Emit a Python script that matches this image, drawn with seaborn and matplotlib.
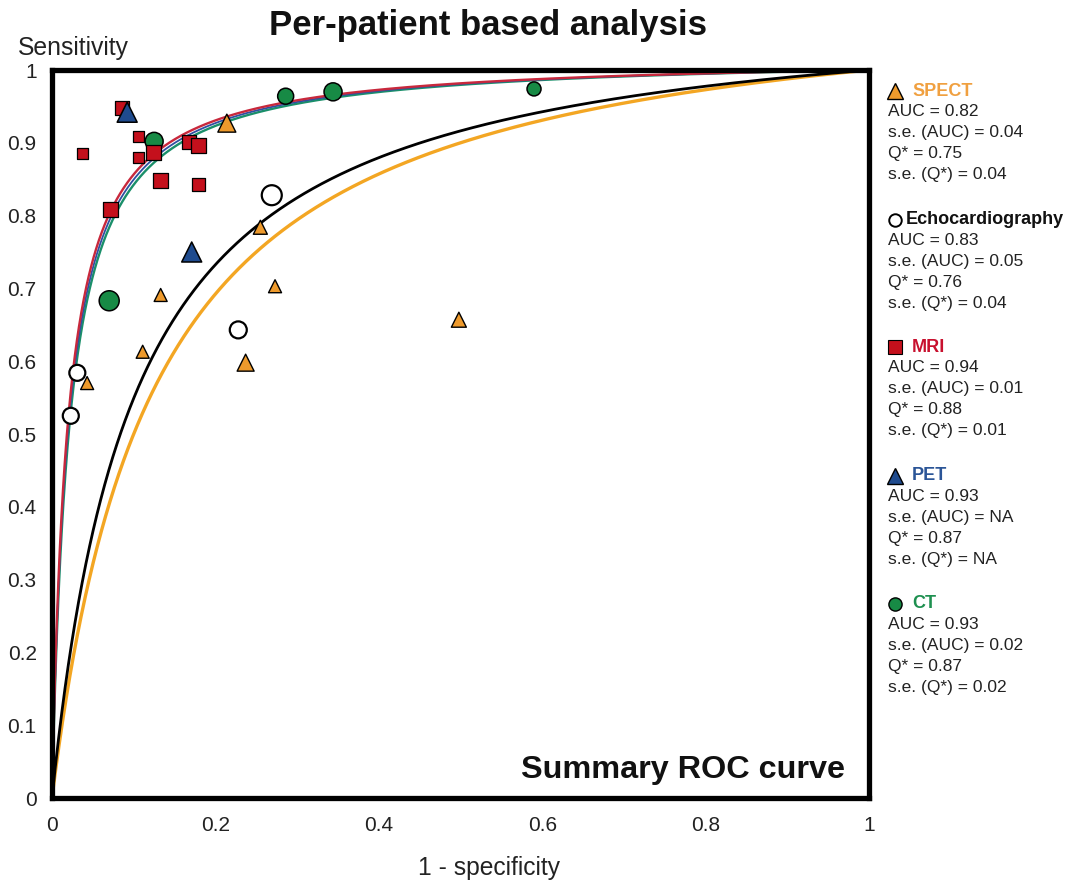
import numpy as np
import matplotlib
matplotlib.use("Agg")
import matplotlib.pyplot as plt
from matplotlib.lines import Line2D
import seaborn as sns

# ---------------- data ----------------
modalities = ["SPECT", "Echocardiography", "MRI", "PET", "CT"]
auc_values = ["0.82", "0.83", "0.94", "0.93", "0.93"]
se_auc = ["0.04", "0.05", "0.01", "NA", "0.02"]
q_star_labels = ["0.75", "0.76", "0.88", "0.87", "0.87"]
se_q = ["0.04", "0.04", "0.01", "NA", "0.02"]
# Q* of each summary ROC curve (unrounded)
sroc_q = [0.750, 0.768, 0.880, 0.877, 0.874]

# study points (1 - specificity, sensitivity, marker diameter ~ study weight)
spect_fpr = [0.214, 0.255, 0.273, 0.133, 0.111, 0.237, 0.043, 0.498]
spect_sens = [0.927, 0.784, 0.703, 0.691, 0.613, 0.598, 0.570, 0.657]
spect_w = [18, 14, 13, 13, 13, 17, 13, 15]

echo_fpr = [0.269, 0.228, 0.031, 0.023]
echo_sens = [0.828, 0.643, 0.584, 0.525]
echo_w = [20, 17, 16, 16]

mri_fpr = [0.086, 0.037, 0.106, 0.106, 0.124, 0.168, 0.179, 0.133, 0.179, 0.071]
mri_sens = [0.948, 0.885, 0.909, 0.880, 0.886, 0.901, 0.896, 0.848, 0.843, 0.809]
mri_w = [14, 11, 11, 11, 15, 14, 15, 15, 13, 15]

pet_fpr = [0.092, 0.171]
pet_sens = [0.942, 0.750]
pet_w = [20, 20]

ct_fpr = [0.286, 0.344, 0.125, 0.070, 0.590]
ct_sens = [0.964, 0.970, 0.902, 0.683, 0.974]
ct_w = [16, 18, 18, 20, 14]

x_ticks = [0, 0.2, 0.4, 0.6, 0.8, 1]
x_tick_labels = ["0", "0.2", "0.4", "0.6", "0.8", "1"]
y_ticks = [0, 0.1, 0.2, 0.3, 0.4, 0.5, 0.6, 0.7, 0.8, 0.9, 1]
y_tick_labels = ["0", "0.1", "0.2", "0.3", "0.4", "0.5", "0.6", "0.7", "0.8", "0.9", "1"]

# ---------------- style ----------------
sns.set_style("white")
plt.rcParams["font.family"] = ["Liberation Sans", "DejaVu Sans"]

ORANGE = "#EE9A2C"
ORANGE_LINE = "#F3A623"
RED = "#C4101C"
RED_LINE = "#C8283C"
BLUE = "#1F4B8E"
BLUE_LINE = "#2F4FA0"
GREEN = "#178A45"
GREEN_LINE = "#1A8F6A"
TXT_ORANGE = "#F0A040"
TXT_RED = "#C8102E"
TXT_BLUE = "#2B5597"
TXT_GREEN = "#1E9050"

W, H = 1072, 881
fig = plt.figure(figsize=(W / 100, H / 100), dpi=100)
ax = fig.add_axes([52 / W, 83 / H, 817 / W, 728 / H])


def px2pt(d):
    return (d * 0.72) ** 2


# ---------------- SROC curves (symmetric, defined by Q*) ----------------
fgrid = np.linspace(0, 1, 2001)


def sroc(q):
    ed = (q / (1 - q)) ** 2
    return fgrid * ed / (fgrid * ed + 1 - fgrid)


curve_specs = [
    (0, ORANGE_LINE, 2.4, 2),
    (1, "black", 2.0, 2),
    (4, GREEN_LINE, 1.7, 3),
    (3, BLUE_LINE, 1.3, 3),
    (2, RED_LINE, 1.7, 3),
]
for idx, col, lw, z in curve_specs:
    sns.lineplot(x=fgrid, y=sroc(sroc_q[idx]), color=col, linewidth=lw, ax=ax,
                 sort=False, estimator=None, errorbar=None, legend=False, zorder=z)

# ---------------- study points ----------------
sns.scatterplot(x=ct_fpr, y=ct_sens, marker="o", s=[px2pt(v) for v in ct_w], color=GREEN,
                edgecolor="black", linewidth=1.1, ax=ax, zorder=5, legend=False)
sns.scatterplot(x=mri_fpr, y=mri_sens, marker="s", s=[px2pt(v) for v in mri_w], color=RED,
                edgecolor="black", linewidth=0.9, ax=ax, zorder=6, legend=False)
sns.scatterplot(x=spect_fpr, y=spect_sens, marker="^", s=[px2pt(v) for v in spect_w], color=ORANGE,
                edgecolor="black", linewidth=1.0, ax=ax, zorder=6, legend=False)
sns.scatterplot(x=echo_fpr, y=echo_sens, marker="o", s=[px2pt(v) for v in echo_w], color="white",
                edgecolor="black", linewidth=1.6, ax=ax, zorder=7, legend=False)
sns.scatterplot(x=pet_fpr, y=pet_sens, marker="^", s=[px2pt(v) for v in pet_w], color=BLUE,
                edgecolor="black", linewidth=1.1, ax=ax, zorder=8, legend=False)

# ---------------- axes ----------------
ax.set_xlim(0, 1)
ax.set_ylim(0, 1)
ax.set_xticks(x_ticks)
ax.set_xticklabels(x_tick_labels)
ax.set_yticks(y_ticks)
ax.set_yticklabels(y_tick_labels)
ax.set_xlabel("")
ax.set_ylabel("")
for sp in ax.spines.values():
    sp.set_linewidth(3.8)
    sp.set_color("black")
    sp.set_zorder(10)
ax.tick_params(axis="both", direction="out", length=8, width=1.0, labelsize=15,
               colors="black", labelcolor="#222222")
ax.tick_params(axis="x", pad=5)
ax.tick_params(axis="y", pad=3)

ax.text(0.9706, 0.0275, "Summary ROC curve", transform=ax.transAxes, ha="right",
        va="baseline", fontsize=23.3, fontweight="bold", color="#111111")

fig.text(488 / W, 1 - 26 / H, "Per-patient based analysis", ha="center", va="center",
         fontsize=25, fontweight="bold", color="#111111")
fig.text(18 / W, 1 - 55 / H, "Sensitivity", ha="left", va="baseline", fontsize=17.8,
         color="#222222")
fig.text(489 / W, 1 - 868 / H, "1 - specificity", ha="center", va="center", fontsize=17.7,
         color="#222222")

# ---------------- side legend ----------------
header_y = [91, 220, 347, 476, 604]
header_x = [912, 906, 912, 912, 912]
header_colors = [TXT_ORANGE, "#111111", TXT_RED, TXT_BLUE, TXT_GREEN]
legend_markers = [
    dict(marker="^", mfc=ORANGE, mec="black", ms=11, mew=1.0),
    dict(marker="o", mfc="white", mec="black", ms=9.0, mew=1.4),
    dict(marker="s", mfc=RED, mec="black", ms=10, mew=0.8),
    dict(marker="^", mfc=BLUE, mec="black", ms=11, mew=1.0),
    dict(marker="o", mfc=GREEN, mec="black", ms=9.5, mew=1.0),
]
for i, name in enumerate(modalities):
    y0 = header_y[i]
    fig.add_artist(Line2D([895 / W], [1 - y0 / H], transform=fig.transFigure,
                          linestyle="none", **legend_markers[i]))
    fig.text(header_x[i] / W, 1 - y0 / H, name, ha="left", va="center", fontsize=13,
             fontweight="bold", color=header_colors[i])
    lines = [
        f"AUC = {auc_values[i]}",
        f"s.e. (AUC) = {se_auc[i]}",
        f"Q* = {q_star_labels[i]}",
        f"s.e. (Q*) = {se_q[i]}",
    ]
    for k, t in enumerate(lines):
        fig.text(888 / W, 1 - (y0 + 20.8 * (k + 1)) / H, t, ha="left", va="center",
                 fontsize=12.5, color="#222222")

fig.savefig("out.png", dpi=100)
